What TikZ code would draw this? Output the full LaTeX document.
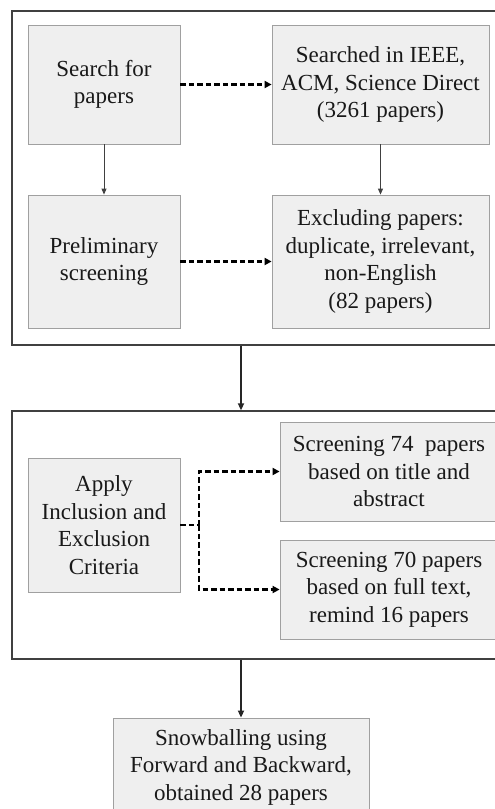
\documentclass[tikz,border=0pt]{standalone}
\usepackage{fontspec}
\setmainfont{Liberation Serif}
\usetikzlibrary{arrows.meta}
\definecolor{boxfill}{HTML}{EFEFEF}
\definecolor{boxline}{HTML}{A0A0A0}
\definecolor{frameline}{HTML}{404040}
\tikzset{
  stepbox/.style={draw=boxline, line width=0.8pt, fill=boxfill, inner sep=0pt, align=center,
    font=\fontsize{23}{27.5}\selectfont, text=black!90},
  frame/.style={draw=frameline, line width=1.3pt, inner sep=0pt},
  solidarrow/.style={draw=frameline, line width=0.9pt, -{Triangle[length=6pt,width=5pt]}},
  bigarrow/.style={draw=black!85, line width=1.6pt, -{Triangle[length=7pt,width=6pt]}},
  dasharrow/.style={draw=black, line width=2.6pt, dash pattern=on 5.5pt off 3pt, -{Triangle[length=7pt,width=7pt]}},
  dashline/.style={draw=black, line width=2.6pt, dash pattern=on 5.5pt off 3pt},
}
\begin{document}
\begin{tikzpicture}[x=1pt,y=-1pt]
\useasboundingbox (0,0) rectangle (495,809);
% outer frames
\node[frame, minimum width=486pt, minimum height=334pt] (outer1) at (255,178) {};
\node[frame, minimum width=486pt, minimum height=248pt] (outer2) at (255,535) {};
% top section
\node[stepbox, minimum width=152pt, minimum height=119pt] (search) at (104,84.5) {Search for\\papers};
\node[stepbox, minimum width=217pt, minimum height=119pt] (ieee) at (380.5,84.5) {Searched in IEEE,\\ACM, Science Direct\\(3261 papers)};
\node[stepbox, minimum width=152pt, minimum height=133pt] (prelim) at (104,261.5) {Preliminary\\screening};
\node[stepbox, minimum width=217pt, minimum height=133pt] (excl) at (380.5,261.5) {Excluding papers:\\duplicate, irrelevant,\\non-English\\(82 papers)};
% middle section
\node[stepbox, minimum width=152pt, minimum height=134pt] (apply) at (104,525) {Apply\\Inclusion and\\Exclusion\\Criteria};
\node[stepbox, minimum width=218pt, minimum height=99pt] (s74) at (389,471.5) {Screening 74\ \ papers\\based on title and\\abstract};
\node[stepbox, minimum width=218pt, minimum height=99pt] (s70) at (389,589.5) {Screening 70 papers\\based on full text,\\remind 16 papers};
% bottom
\node[stepbox, minimum width=256pt, minimum height=98pt] (snow) at (241,767) {Snowballing using\\Forward and Backward,\\obtained 28 papers};
% connectors
\draw[solidarrow] (search) -- (prelim);
\draw[solidarrow] (ieee) -- (excl);
\draw[dasharrow] (search) -- (ieee);
\draw[dasharrow] (prelim) -- (excl);
\coordinate (j) at (199,525);
\draw[dashline] (apply.east) -- (j);
\draw[dasharrow] (j) |- (s74.west);
\draw[dasharrow] (j) |- (s70.west);
\draw[bigarrow] (snow.north |- outer1.south) -- (snow.north |- outer2.north);
\draw[bigarrow] (snow.north |- outer2.south) -- (snow.north);
\end{tikzpicture}
\end{document}
